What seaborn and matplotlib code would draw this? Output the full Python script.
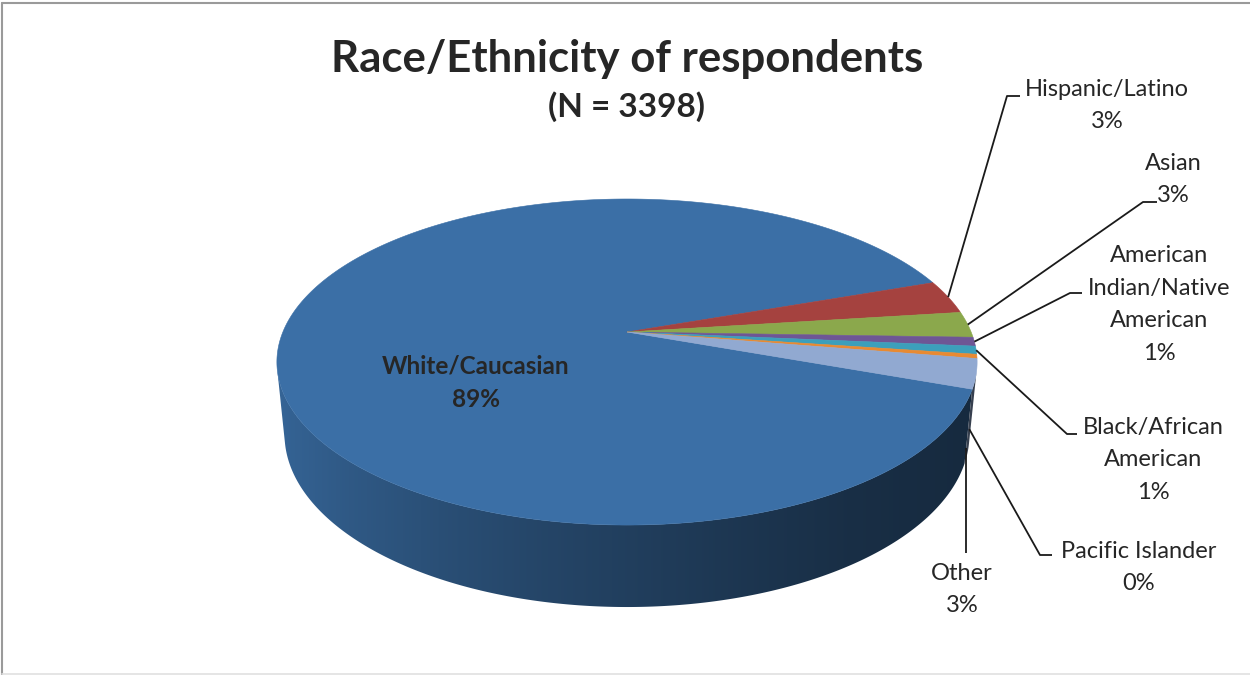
import numpy as np
import matplotlib
matplotlib.use("Agg")
import matplotlib.pyplot as plt
from matplotlib.patches import Polygon
import seaborn as sns

# ---- data -------------------------------------------------------------
categories = ["White/Caucasian", "Hispanic/Latino", "Asian",
              "American Indian/Native American", "Black/African American",
              "Pacific Islander", "Other"]
counts = [3027, 114, 87, 30, 27, 14, 99]
display_names = ["White/Caucasian", "Hispanic/Latino", "Asian",
                 "American\nIndian/Native\nAmerican", "Black/African\nAmerican",
                 "Pacific Islander", "Other"]
title_text = "Race/Ethnicity of respondents"
subtitle_text = f"(N = {sum(counts)})"

# ---- style ------------------------------------------------------------
sns.set_theme(style="white")
plt.rcParams["font.family"] = ["Lato", "DejaVu Sans"]
slice_colors = sns.color_palette(["#3B6FA6", "#A5423F", "#8BA84C", "#6E5695",
                                  "#3C9FBB", "#E88A32", "#91A9D1"])
TEXT = "#262626"

# camera / projection of the tilted disc
CX, CY = 627.0, 332.0
KX, KY = 1669.0, 1697.5
DIST = 4.85
SIN_E, COS_E = 0.45, np.sqrt(1 - 0.45 ** 2)
THICK = 0.233
START_DEG = -19.9          # first slice starts here, slices run clockwise


def project(x, y, z):
    v = y * SIN_E + z * COS_E
    w = DIST + y * COS_E - z * SIN_E
    return CX + KX * x / w, CY - KY * v / w


values = np.asarray(counts, dtype=float)
fracs = values / values.sum()
spans = fracs * 360.0
starts = START_DEG - np.concatenate([[0], np.cumsum(spans)[:-1]])
ends = starts - spans
cum = np.cumsum(spans)


def slice_at(theta):
    off = (START_DEG - theta) % 360.0
    return int(min(np.searchsorted(cum, off, side="right"), len(cum) - 1))


fig = plt.figure(figsize=(12.5, 6.75), dpi=100)
ax = fig.add_axes([0, 0, 1, 1])
ax.set_xlim(0, 1250)
ax.set_ylim(675, 0)
ax.axis("off")

# ---- side wall (front, visible part) with horizontal shading -----------
lim = np.degrees(np.arcsin(1.0 / (DIST * COS_E)))
t_side = np.linspace(180 + lim, 360 - lim, 2400)
idx = np.array([slice_at(t) for t in t_side])
shade_x = np.array([260, 290, 350, 450, 550, 650, 750, 850, 1000])
shade_f = np.array([0.95, 0.88, 0.80, 0.70, 0.62, 0.55, 0.48, 0.42, 0.37])
grad_x = np.linspace(260, 1000, 740)
grad_f = np.interp(grad_x, shade_x, shade_f)

groups = []
s0 = 0
for j in range(1, len(t_side) + 1):
    if j == len(t_side) or idx[j] != idx[s0]:
        groups.append((idx[s0], t_side[s0:min(j + 1, len(t_side))]))
        s0 = j
for si, ts in groups:
    a = np.radians(ts)
    top = [project(np.cos(q), np.sin(q), 0) for q in a]
    bot = [project(np.cos(q), np.sin(q), -THICK) for q in a[::-1]]
    wall = Polygon(top + bot, closed=True, facecolor="none", edgecolor="none")
    ax.add_patch(wall)
    base = np.array(slice_colors[si])
    img = np.clip(grad_f[None, :, None] * base[None, None, :], 0, 1)
    im = ax.imshow(img, extent=(260, 1000, 625, 300), aspect="auto",
                   interpolation="bilinear", zorder=1)
    im.set_clip_path(wall)

# ---- top face wedges ---------------------------------------------------
for i in range(len(values)):
    n = max(4, int(spans[i] * 2))
    th = np.radians(np.linspace(starts[i], ends[i], n))
    pts = [project(0, 0, 0)] + [project(np.cos(a), np.sin(a), 0) for a in th]
    ax.add_patch(Polygon(pts, closed=True, facecolor=slice_colors[i],
                         edgecolor=slice_colors[i], lw=0.4, zorder=2))

# ---- titles -------------------------------------------------------------
ax.text(627, 72, title_text, ha="center", va="baseline", fontsize=31.5,
        fontweight="bold", color=TEXT)
ax.text(627, 117, subtitle_text, ha="center", va="baseline", fontsize=24,
        fontweight="bold", color=TEXT)


def pct(v):
    return f"{int(round(v * 100))}%"


# label inside the large slice
ax.text(476, 373, display_names[0], ha="center", va="baseline", fontsize=17.5,
        fontweight="bold", color=TEXT, zorder=4)
ax.text(476, 407, pct(fracs[0]), ha="center", va="baseline", fontsize=17.5,
        fontweight="bold", color=TEXT, zorder=4)

# outside labels: text centre x, first baseline, leader elbow, leader end
label_cx = [1107, 1173, 1159, 1153, 1139, 962]
label_y0 = [96, 170, 262, 434, 558, 580]
elbows = [(1007, 96), (1143, 202), (1070, 293), (1067, 434), (1040, 555), (966, 553)]
tails = [(1020, 96), (1157, 202), (1082, 293), (1077, 434), (1052, 555), None]
anchor_on_base = [False, False, False, False, True, True]
LINE_STEP = 32.5

for k, i in enumerate(range(1, len(values))):
    mid = np.radians(0.5 * (starts[i] + ends[i]))
    z = -THICK if anchor_on_base[k] else 0.0
    ax_, ay_ = project(np.cos(mid), np.sin(mid), z)
    ex, ey = elbows[k]
    if tails[k] is None:
        xs, ys = [ex, ex], [ay_, ey]
    else:
        xs, ys = [ax_, ex, tails[k][0]], [ay_, ey, tails[k][1]]
    ax.plot(xs, ys, color="#1a1a1a", lw=1.3, solid_capstyle="butt", zorder=3)
    lines = display_names[i].split("\n") + [pct(fracs[i])]
    for j, line in enumerate(lines):
        ax.text(label_cx[k], label_y0[k] + j * LINE_STEP, line, ha="center",
                va="baseline", fontsize=17, color=TEXT, zorder=4)

# ---- chart frame --------------------------------------------------------
ax.plot([2, 1250], [3, 3], color="#9a9a9a", lw=1.5)
ax.plot([2, 2], [3, 675], color="#9a9a9a", lw=1.5)
ax.plot([2, 1250], [673.5, 673.5], color="#e0e0e0", lw=1.2)

fig.savefig("out.png", dpi=100)
